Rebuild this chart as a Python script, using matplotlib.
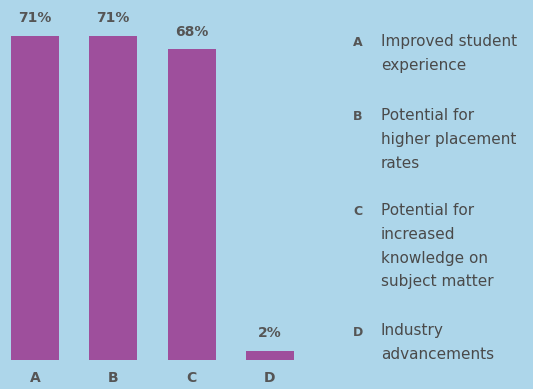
import matplotlib.pyplot as plt

categories = ['A', 'B', 'C', 'D']
values = [71, 71, 68, 2]
descriptions = [
    'Improved student\nexperience',
    'Potential for\nhigher placement\nrates',
    'Potential for\nincreased\nknowledge on\nsubject matter',
    'Industry\nadvancements',
]

bg = '#add6ea'
bar_color = '#9e4f9c'
text_color = '#555555'

W, H = 533, 389
fig = plt.figure(figsize=(W / 100, H / 100), dpi=100, facecolor=bg)
plt.rcParams['font.family'] = ['DejaVu Sans']

# axes spans pixel x 0..305, y 0..360 (from top)
ax = fig.add_axes([0, 29 / H, 305 / W, 360 / H])
ax.set_facecolor(bg)
unit = 78.3
ax.set_xlim(-35 / unit, -35 / unit + 305 / unit)
ax.set_ylim(0, 360 / 4.57)
x = list(range(len(categories)))
ax.bar(x, values, width=48 / unit, color=bar_color)
for xi, v in zip(x, values):
    ax.annotate(f'{v}%', (xi, v), xytext=(0, 12.5), textcoords='offset points',
                ha='center', va='center', fontsize=10, fontweight='bold',
                color=text_color)
ax.set_xticks(x)
ax.set_xticklabels(categories, fontsize=10, fontweight='bold', color=text_color)
ax.tick_params(axis='x', length=0, pad=8)
ax.set_yticks([])
for s in ax.spines.values():
    s.set_visible(False)

# legend block on the right
tops = [43, 117, 212, 332]
for cat, desc, y in zip(categories, descriptions, tops):
    fig.text(358 / W, 1 - y / H, cat, ha='center', va='center', fontsize=9,
             fontweight='bold', color=text_color)
    fig.text(381 / W, 1 - (y - 9) / H, desc, ha='left', va='top', fontsize=11,
             color='#4a4a4a', linespacing=1.73)

fig.savefig('out.png', dpi=100, facecolor=bg)
